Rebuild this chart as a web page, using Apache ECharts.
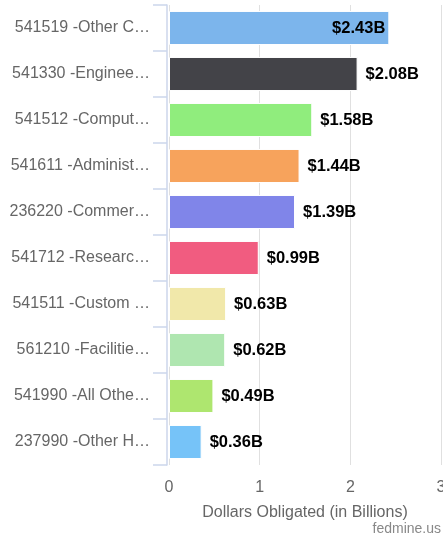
<!DOCTYPE html>
<html>
<head>
<meta charset="utf-8">
<script src="https://cdn.jsdelivr.net/npm/echarts@6/dist/echarts.min.js"></script>
<style>
  html, body { margin: 0; padding: 0; background: #fff; }
  #main { width: 443px; height: 537px; }
</style>
</head>
<body>
<div id="main"></div>
<script>
const categories = ['541519 -Other C…', '541330 -Enginee…', '541512 -Comput…', '541611 -Administ…', '236220 -Commer…',
  '541712 -Researc…', '541511 -Custom …', '561210 -Facilitie…', '541990 -All Othe…', '237990 -Other H…'];
const values = [2.43, 2.08, 1.58, 1.44, 1.39, 0.99, 0.63, 0.62, 0.49, 0.36];
const barColors = ['#7cb5ec', '#434348', '#90ed7d', '#f7a35c', '#8085e9', '#f15c80', '#f1e8aa', '#afe6b0', '#aee66f', '#76c3f8'];
const xTicks = [0, 1, 2, 3];

const chart = echarts.init(document.getElementById('main'));

const font = '"Liberation Sans", Arial, sans-serif';

const option = {
  animation: false,
  textStyle: { fontFamily: font },
  grid: { left: 169, right: 2, top: 5, bottom: 72, containLabel: false, outerBoundsMode: 'none' },
  xAxis: {
    type: 'value',
    min: xTicks[0],
    max: xTicks[xTicks.length - 1],
    interval: 1,
    name: 'Dollars Obligated (in Billions)',
    nameLocation: 'middle',
    nameGap: 40,
    nameTextStyle: { fontSize: 16, color: '#666', fontFamily: font },
    axisLine: { show: false },
    axisTick: { show: false },
    axisLabel: { fontSize: 16, color: '#666', margin: 15, fontFamily: font },
    splitLine: { lineStyle: { color: '#e0e0e0' } }
  },
  yAxis: {
    type: 'category',
    inverse: true,
    data: categories,
    offset: 2,
    axisLine: { show: true, onZero: false, lineStyle: { color: '#ccd6eb', width: 1.5 } },
    axisTick: { show: true, length: 14, lineStyle: { color: '#ccd6eb', width: 1.5 } },
    axisLabel: { fontSize: 16, color: '#666', margin: 17, fontFamily: font }
  },
  series: [{
    type: 'bar',
    barCategoryGap: '26%',
    data: values.map((v, i) => ({
      value: v,
      itemStyle: { color: barColors[i] },
      label: i === 0 ? { position: 'insideRight', distance: 4 } : undefined
    })),
    itemStyle: { borderColor: '#fff', borderWidth: 1 },
    label: {
      show: true,
      position: 'right',
      distance: 8,
      fontSize: 16.5,
      fontWeight: 'bold',
      color: '#000',
      fontFamily: font,
      formatter: p => '$' + p.value.toFixed(2) + 'B'
    }
  }],
  graphic: [{
    type: 'text',
    right: 2,
    bottom: 1,
    style: { text: 'fedmine.us', fontSize: 14, fill: '#888', fontFamily: font }
  }]
};

chart.setOption(option);
</script>
</body>
</html>
